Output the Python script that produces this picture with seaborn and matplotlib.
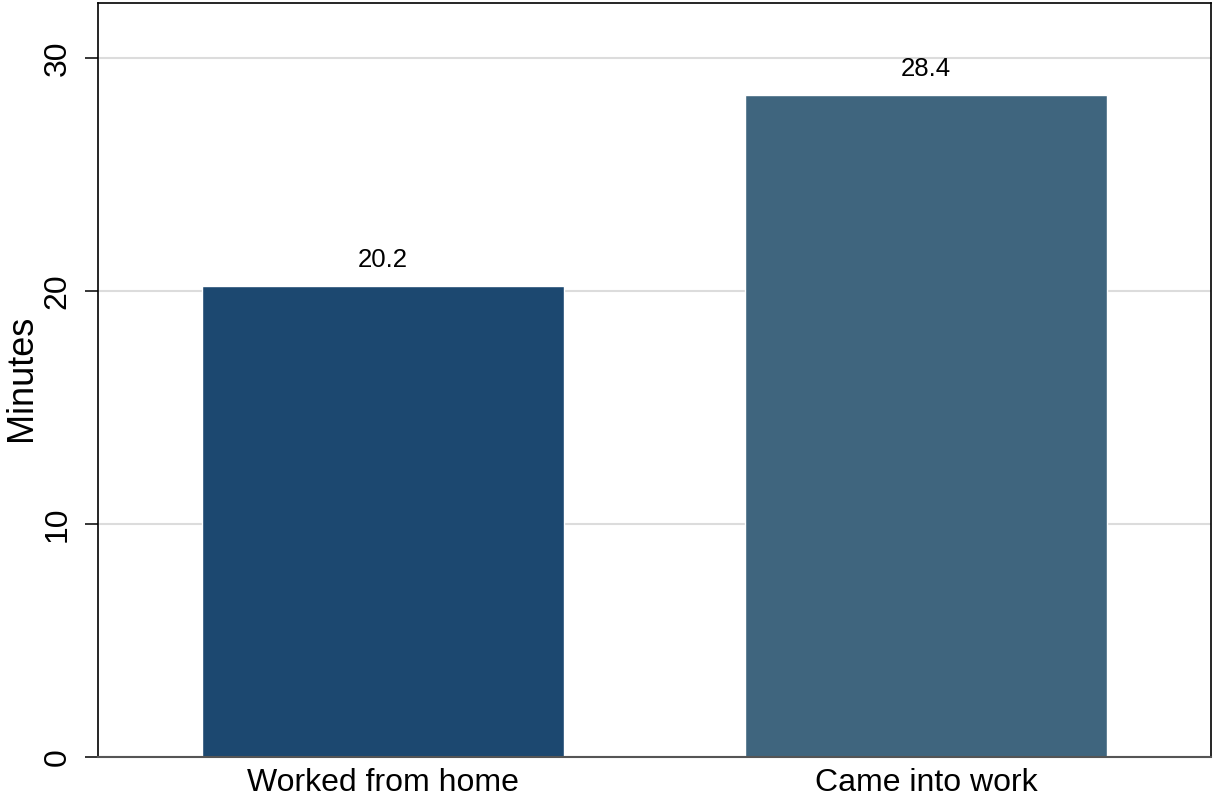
import matplotlib
matplotlib.use("Agg")
import matplotlib.pyplot as plt
import seaborn as sns
import pandas as pd

categories = ["Worked from home", "Came into work"]
minutes = [20.2, 28.4]
bar_colors = ["#1C4870", "#3F657E"]
y_ticks = [0, 10, 20, 30]

sns.set_theme(style="white")
plt.rcParams['font.family'] = ['Liberation Sans', 'DejaVu Sans']

df = pd.DataFrame({"group": categories, "minutes": minutes})

fig = plt.figure(figsize=(12.14, 8.01), dpi=100)
ax = fig.add_axes([98/1214, 44/801, (1211-98)/1214, (757-3)/801])

sns.barplot(data=df, x="group", y="minutes", hue="group", palette=bar_colors,
            width=0.667, saturation=1, legend=False, ax=ax, zorder=2)

for c in ax.containers:
    ax.bar_label(c, fmt="%.1f", padding=10, fontsize=18.5, color="black")

ax.set_ylim(0, 32.36)
ax.set_xlim(-0.525, 1.525)
ax.set_yticks(y_ticks)
ax.set_yticklabels([str(t) for t in y_ticks], rotation=90, va="center", fontsize=23)
ax.tick_params(axis="y", length=9.5, width=1.1, direction="out", pad=9, left=True, color="black")
ax.tick_params(axis="x", length=0, pad=8, labelsize=23)
for lbl in ax.get_xticklabels():
    lbl.set_color("black")
for lbl in ax.get_yticklabels():
    lbl.set_color("black")

ax.yaxis.grid(True, color="#dcdcdc", linewidth=1.5, zorder=0)
ax.xaxis.grid(False)
ax.set_axisbelow(True)

ax.set_xlabel("")
ax.set_ylabel("Minutes", fontsize=26, color="black", va="center")
ax.yaxis.set_label_coords(-0.069, 0.503)

for side in ["left", "top", "right"]:
    ax.spines[side].set_visible(True)
    ax.spines[side].set_color("black")
    ax.spines[side].set_linewidth(1.2)
ax.spines["bottom"].set_color("#555555")
ax.spines["bottom"].set_linewidth(1.5)

fig.savefig("out.png", dpi=100, facecolor="white")
